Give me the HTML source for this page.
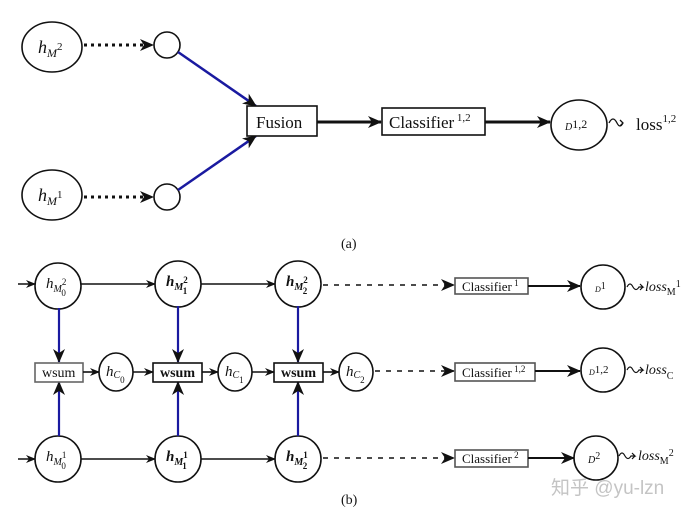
<!DOCTYPE html>
<html><head><meta charset="utf-8"><style>
html,body{margin:0;padding:0;background:#fff;}
svg{display:block;}
text{font-family:"Liberation Serif",serif;fill:#111;}
</style></head><body>
<svg width="693" height="519" viewBox="0 0 693 519" xmlns="http://www.w3.org/2000/svg">
<defs>
<marker id="a" markerWidth="10" markerHeight="8" refX="9" refY="4" orient="auto" markerUnits="userSpaceOnUse"><path d="M0,0 L10,4 L0,8 L3,4 z" fill="#111"/></marker>
<marker id="b" markerWidth="14" markerHeight="12" refX="13" refY="6" orient="auto" markerUnits="userSpaceOnUse"><path d="M0,0 L14,6 L0,12 L4,6 z" fill="#111"/></marker>
</defs>
<g fill="none" stroke="#111" stroke-width="1.6">
<ellipse cx="52" cy="47" rx="30" ry="25"/>
<ellipse cx="52" cy="195" rx="30" ry="25"/>
<circle cx="167" cy="45" r="13"/>
<circle cx="167" cy="197" r="13"/>
<line x1="84" y1="45" x2="153" y2="45" stroke-width="3" stroke-dasharray="3,4" marker-end="url(#b)"/>
<line x1="84" y1="197" x2="153" y2="197" stroke-width="3" stroke-dasharray="3,4" marker-end="url(#b)"/>
<line x1="178" y1="52" x2="256" y2="106" stroke="#1a1aa0" stroke-width="2.5" marker-end="url(#b)"/>
<line x1="178" y1="190" x2="256" y2="136" stroke="#1a1aa0" stroke-width="2.5" marker-end="url(#b)"/>
<rect x="247" y="106" width="70" height="30" fill="#fff"/>
<line x1="317" y1="122" x2="381" y2="122" stroke-width="3" marker-end="url(#b)"/>
<rect x="382" y="108" width="103" height="27" fill="#fff"/>
<line x1="485" y1="122" x2="550" y2="122" stroke-width="3" marker-end="url(#b)"/>
<ellipse cx="579" cy="125" rx="28" ry="25"/>
<path d="M609,123 q4,-8 8,0 q3,6 6,0 l-3,-3 M623,123 l-3,3" stroke-width="1.3"/>
<circle cx="58" cy="286" r="23"/>
<circle cx="178" cy="284" r="23"/>
<circle cx="298" cy="284" r="23"/>
<circle cx="58" cy="459" r="23"/>
<circle cx="178" cy="459" r="23"/>
<circle cx="298" cy="459" r="23"/>
<line x1="18" y1="284" x2="35" y2="284" marker-end="url(#a)"/>
<line x1="18" y1="459" x2="35" y2="459" marker-end="url(#a)"/>
<line x1="81" y1="284" x2="155" y2="284" marker-end="url(#a)"/>
<line x1="201" y1="284" x2="275" y2="284" marker-end="url(#a)"/>
<line x1="81" y1="459" x2="155" y2="459" marker-end="url(#a)"/>
<line x1="201" y1="459" x2="275" y2="459" marker-end="url(#a)"/>
<g stroke="#1a1aa0" stroke-width="2.2">
<line x1="59" y1="308" x2="59" y2="362" marker-end="url(#b)"/>
<line x1="178" y1="306" x2="178" y2="362" marker-end="url(#b)"/>
<line x1="298" y1="306" x2="298" y2="362" marker-end="url(#b)"/>
<line x1="59" y1="436" x2="59" y2="382" marker-end="url(#b)"/>
<line x1="178" y1="436" x2="178" y2="382" marker-end="url(#b)"/>
<line x1="298" y1="436" x2="298" y2="382" marker-end="url(#b)"/>
</g>
<rect x="35" y="363" width="48" height="19" fill="#fff" stroke="#666"/>
<rect x="153" y="363" width="49" height="19" fill="#fff"/>
<rect x="274" y="363" width="49" height="19" fill="#fff"/>
<ellipse cx="116" cy="372" rx="17" ry="19"/>
<ellipse cx="235" cy="372" rx="17" ry="19"/>
<ellipse cx="356" cy="372" rx="17" ry="19"/>
<line x1="83" y1="372" x2="99" y2="372" marker-end="url(#a)"/>
<line x1="133" y1="372" x2="153" y2="372" marker-end="url(#a)"/>
<line x1="202" y1="372" x2="218" y2="372" marker-end="url(#a)"/>
<line x1="252" y1="372" x2="274" y2="372" marker-end="url(#a)"/>
<line x1="323" y1="372" x2="339" y2="372" marker-end="url(#a)"/>
<g stroke-dasharray="5,6" stroke-width="1.6">
<line x1="323" y1="285" x2="454" y2="285" marker-end="url(#b)"/>
<line x1="375" y1="371" x2="454" y2="371" marker-end="url(#b)"/>
<line x1="323" y1="458" x2="454" y2="458" marker-end="url(#b)"/>
</g>
<rect x="455" y="278" width="73" height="16" fill="#fff" stroke="#555"/>
<rect x="455" y="363" width="80" height="18" fill="#fff" stroke="#555"/>
<rect x="455" y="450" width="73" height="17" fill="#fff" stroke="#555"/>
<line x1="528" y1="286" x2="580" y2="286" stroke-width="2" marker-end="url(#b)"/>
<line x1="535" y1="371" x2="580" y2="371" stroke-width="2" marker-end="url(#b)"/>
<line x1="528" y1="458" x2="574" y2="458" stroke-width="2" marker-end="url(#b)"/>
<circle cx="603" cy="287" r="22"/>
<circle cx="603" cy="370" r="22"/>
<ellipse cx="596" cy="458" rx="22" ry="22"/>
<g stroke-width="1.2">
<path d="M627,287 q3,-6 6,0 q3,5 6,0 h4 l-3,-3 M643,287 l-3,3"/>
<path d="M627,370 q3,-6 6,0 q3,5 6,0 h4 l-3,-3 M643,370 l-3,3"/>
<path d="M619,456 q3,-6 6,0 q3,5 6,0 h4 l-3,-3 M635,456 l-3,3"/>
</g>
</g>
<text x="38" y="53" font-size="18" font-style="italic">h<tspan font-size="12" dy="4">M</tspan><tspan font-size="11" dy="-7" font-style="normal">2</tspan></text>
<text x="38" y="201" font-size="18" font-style="italic">h<tspan font-size="12" dy="4">M</tspan><tspan font-size="11" dy="-7" font-style="normal">1</tspan></text>
<text x="256" y="128" font-size="17">Fusion</text>
<text x="389" y="128" font-size="17">Classifier<tspan font-size="11" dy="-7"> 1,2</tspan></text>
<text x="565" y="130" font-size="10" font-style="italic">D<tspan font-size="12" font-style="normal" dy="-2">1,2</tspan></text>
<text x="636" y="130" font-size="17">loss<tspan font-size="11" dy="-8">1,2</tspan></text>
<text x="341" y="248" font-size="14">(a)</text>
<g font-size="15" font-style="italic">
<text x="46" y="288">h<tspan font-size="10" dy="4">M</tspan><tspan font-size="9" font-style="normal" dy="-7">2</tspan><tspan font-size="9" font-style="normal" dx="-5" dy="11">0</tspan></text>
<text x="166" y="286" font-weight="bold">h<tspan font-size="10" dy="4">M</tspan><tspan font-size="9" font-style="normal" dy="-7">2</tspan><tspan font-size="9" font-style="normal" dx="-5" dy="11">1</tspan></text>
<text x="286" y="286" font-weight="bold">h<tspan font-size="10" dy="4">M</tspan><tspan font-size="9" font-style="normal" dy="-7">2</tspan><tspan font-size="9" font-style="normal" dx="-5" dy="11">2</tspan></text>
<text x="46" y="461">h<tspan font-size="10" dy="4">M</tspan><tspan font-size="9" font-style="normal" dy="-7">1</tspan><tspan font-size="9" font-style="normal" dx="-5" dy="11">0</tspan></text>
<text x="166" y="461" font-weight="bold">h<tspan font-size="10" dy="4">M</tspan><tspan font-size="9" font-style="normal" dy="-7">1</tspan><tspan font-size="9" font-style="normal" dx="-5" dy="11">1</tspan></text>
<text x="286" y="461" font-weight="bold">h<tspan font-size="10" dy="4">M</tspan><tspan font-size="9" font-style="normal" dy="-7">1</tspan><tspan font-size="9" font-style="normal" dx="-5" dy="11">2</tspan></text>
<text x="106" y="376">h<tspan font-size="10" dy="2">C</tspan><tspan font-size="9" font-style="normal" dy="5">0</tspan></text>
<text x="225" y="376">h<tspan font-size="10" dy="2">C</tspan><tspan font-size="9" font-style="normal" dy="5">1</tspan></text>
<text x="346" y="376">h<tspan font-size="10" dy="2">C</tspan><tspan font-size="9" font-style="normal" dy="5">2</tspan></text>
</g>
<g font-size="14">
<text x="42" y="377">wsum</text>
<text x="160" y="377" font-weight="bold">wsum</text>
<text x="281" y="377" font-weight="bold">wsum</text>
<text x="462" y="291" font-size="13">Classifier<tspan font-size="9" dy="-5"> 1</tspan></text>
<text x="462" y="377" font-size="13">Classifier<tspan font-size="9" dy="-5"> 1,2</tspan></text>
<text x="462" y="463" font-size="13">Classifier<tspan font-size="9" dy="-5"> 2</tspan></text>
<text x="595" y="292" font-size="8" font-style="italic">D<tspan font-size="10" font-style="normal" dy="-3">1</tspan></text>
<text x="589" y="375" font-size="8" font-style="italic">D<tspan font-size="11" font-style="normal" dy="-2">1,2</tspan></text>
<text x="588" y="463" font-size="10" font-style="italic">D<tspan font-size="10" font-style="normal" dy="-4">2</tspan></text>
<text x="645" y="291" font-style="italic">loss<tspan font-size="10" font-style="normal" dy="4">M</tspan><tspan font-size="10" font-style="normal" dy="-8">1</tspan></text>
<text x="645" y="374" font-style="italic">loss<tspan font-size="10" font-style="normal" dy="5">C</tspan></text>
<text x="638" y="460" font-style="italic">loss<tspan font-size="10" font-style="normal" dy="4">M</tspan><tspan font-size="10" font-style="normal" dy="-8">2</tspan></text>
<text x="341" y="504" font-size="14">(b)</text>
</g>
<text x="551" y="494" font-size="19" style="fill:#c4c4c4;font-family:'Liberation Sans','Noto Sans CJK SC',sans-serif">知乎 @yu-lzn</text>
</svg>
</body></html>
